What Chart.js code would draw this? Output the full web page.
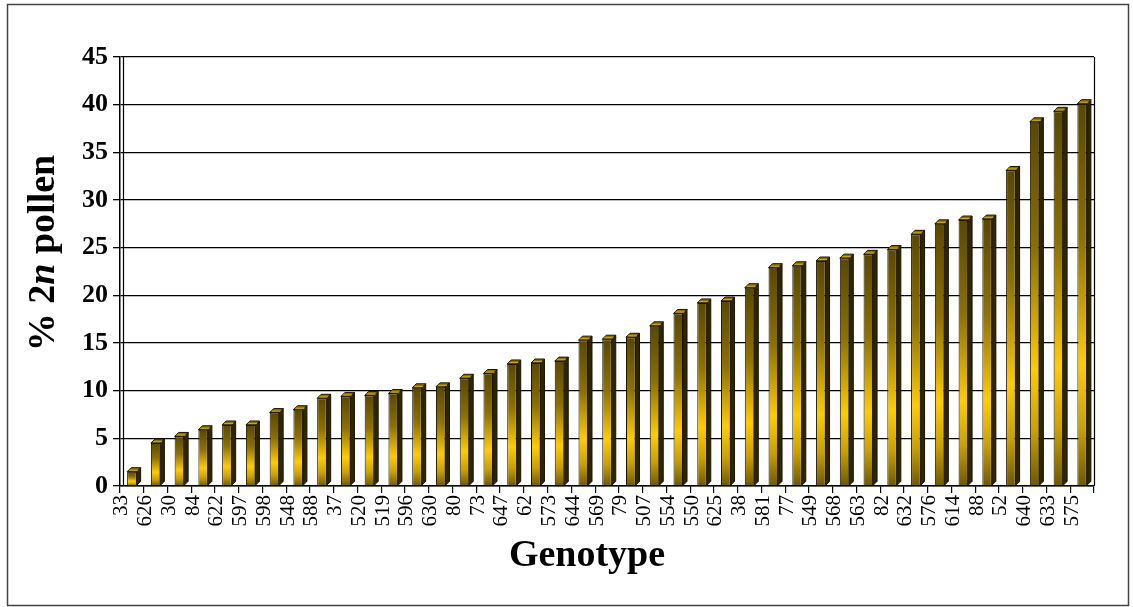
<!DOCTYPE html>
<html>
<head>
<meta charset="utf-8">
<script src="https://cdn.jsdelivr.net/npm/chart.js@4/dist/chart.umd.min.js"></script>
<style>
html,body{margin:0;padding:0;background:#fff;}
#wrap{width:1133px;height:607px;}
</style>
</head>
<body>
<div id="wrap"><canvas id="c" width="1133" height="607"></canvas></div>
<script>
const genotypes = ["33","626","30","84","622","597","598","548","588","37","520","519","596","630","80","73","647","62","573","644","569","79","507","554","550","625","38","581","77","549","568","563","82","632","576","614","88","52","640","633","575"];
const pollen2n = [1.5,4.5,5.2,5.9,6.4,6.4,7.7,8.0,9.2,9.4,9.5,9.7,10.3,10.4,11.3,11.8,12.8,12.9,13.1,15.3,15.4,15.6,16.8,18.1,19.2,19.4,20.8,22.9,23.1,23.6,23.9,24.3,24.8,26.4,27.5,27.9,28.0,33.1,38.2,39.3,40.1];
const yTicks = [0,5,10,15,20,25,30,35,40,45];
const yTitleParts = [["% 2","bold"],["n","italic bold"],[" pollen","bold"]];
const xTitle = "Genotype";

const SERIF = "'Liberation Serif','Times New Roman',serif";
const DEPTH = 4;

function barGradient(ctx){
  const chart = ctx.chart;
  const ys = chart.scales.y;
  if (!ys || !chart.chartArea) return '#e0b000';
  const top = ys.getPixelForValue(ctx.raw);
  const base = ys.getPixelForValue(0);
  if (!isFinite(top) || !isFinite(base) || base - top < 1) return '#e0b000';
  const g = chart.ctx.createLinearGradient(0, top, 0, base);
  g.addColorStop(0, '#5a4800');
  g.addColorStop(0.35, '#8c7000');
  g.addColorStop(0.68, '#ffcc00');
  g.addColorStop(0.85, '#c9a000');
  g.addColorStop(1, '#6e5800');
  return g;
}

const bgPlugin = {
  id: 'bgPlugin',
  beforeDraw(c){
    const ctx = c.ctx;
    ctx.save();
    ctx.fillStyle = '#fff';
    ctx.fillRect(0,0,c.width,c.height);
    ctx.strokeStyle = '#444';
    ctx.lineWidth = 1.5;
    ctx.strokeRect(7.5,4.5,1121,601);
    ctx.restore();
  }
};

const decoPlugin = {
  id: 'decoPlugin',
  beforeDatasetsDraw(c){
    const ctx = c.ctx, a = c.chartArea;
    ctx.save();
    ctx.strokeStyle = '#000';
    ctx.lineWidth = 1.2;
    ctx.beginPath();
    ctx.moveTo(a.left + 3.5, a.top);
    ctx.lineTo(a.left + 3.5, a.bottom);
    ctx.moveTo(a.right + 0.5, a.top);
    ctx.lineTo(a.right + 0.5, a.bottom);
    ctx.stroke();
    ctx.restore();
  },
  afterDatasetsDraw(c){
    const ctx = c.ctx;
    const meta = c.getDatasetMeta(0);
    ctx.save();
    ctx.lineWidth = 1;
    ctx.strokeStyle = '#1a1400';
    meta.data.forEach(el => {
      const p = el.getProps(['x','y','base','width'], true);
      const l = p.x - p.width/2, r = p.x + p.width/2, t = p.y, b = p.base;
      ctx.beginPath();
      ctx.moveTo(r, t);
      ctx.lineTo(r + DEPTH, t - DEPTH);
      ctx.lineTo(r + DEPTH, b - DEPTH);
      ctx.lineTo(r, b);
      ctx.closePath();
      ctx.fillStyle = '#2e2600';
      ctx.fill();
      ctx.stroke();
      ctx.beginPath();
      ctx.moveTo(l, t);
      ctx.lineTo(l + DEPTH, t - DEPTH);
      ctx.lineTo(r + DEPTH, t - DEPTH);
      ctx.lineTo(r, t);
      ctx.closePath();
      ctx.fillStyle = '#8a7000';
      ctx.fill();
      ctx.stroke();
      ctx.beginPath();
      ctx.moveTo(l + 2, t - 1.5);
      ctx.lineTo(r + 1.5, t - 1.5);
      ctx.strokeStyle = '#d8a800';
      ctx.stroke();
      ctx.strokeStyle = '#1a1400';
    });
    ctx.restore();
  },
  afterDraw(c){
    const ctx = c.ctx;
    ctx.save();
    ctx.fillStyle = '#000';
    ctx.font = "bold 38px " + SERIF;
    ctx.textAlign = 'center';
    ctx.textBaseline = 'alphabetic';
    ctx.fillText(xTitle, 587, 566);
    ctx.translate(54, 253);
    ctx.rotate(-Math.PI/2);
    let total = 0;
    const widths = yTitleParts.map(([t,s]) => { ctx.font = s + " 38px " + SERIF; const w = ctx.measureText(t).width; total += w; return w; });
    let x = -total/2;
    ctx.textAlign = 'left';
    yTitleParts.forEach(([t,s], i) => {
      ctx.font = s + " 38px " + SERIF;
      ctx.fillText(t, x, 0);
      x += widths[i];
    });
    ctx.restore();
  }
};

new Chart(document.getElementById('c'), {
  type: 'bar',
  data: {
    labels: genotypes,
    datasets: [{
      data: pollen2n,
      backgroundColor: barGradient,
      borderColor: '#1a1400',
      borderWidth: 1,
      categoryPercentage: 1.0,
      barPercentage: 0.4
    }]
  },
  options: {
    responsive: false,
    animation: false,
    devicePixelRatio: 1,
    layout: { padding: { left: 0, top: 57, right: 39, bottom: 0 } },
    plugins: { legend: { display: false }, tooltip: { enabled: false }, title: { display: false } },
    scales: {
      x: {
        type: 'category',
        offset: true,
        afterFit(s){ s.height = 121; },
        grid: { display: true, drawOnChartArea: false, drawTicks: true, tickLength: 7, color: '#000', offset: true, lineWidth: 1.2 },
        border: { display: true, color: '#000', width: 1.5 },
        ticks: {
          autoSkip: false, minRotation: 90, maxRotation: 90,
          labelOffset: -10, padding: 2,
          color: '#000',
          font: { family: SERIF, size: 21, weight: 'normal' }
        }
      },
      y: {
        min: 0, max: 45,
        afterFit(s){ s.width = 120; },
        afterBuildTicks(s){ s.ticks = yTicks.map(v => ({ value: v })); },
        grid: { display: true, color: '#000', lineWidth: 1.3, drawTicks: true, tickLength: 7 },
        border: { display: true, color: '#000', width: 1.5 },
        ticks: {
          stepSize: 5, padding: 5, color: '#000',
          font: { family: SERIF, size: 26, weight: 'bold' }
        }
      }
    }
  },
  plugins: [bgPlugin, decoPlugin]
});
</script>
</body>
</html>
